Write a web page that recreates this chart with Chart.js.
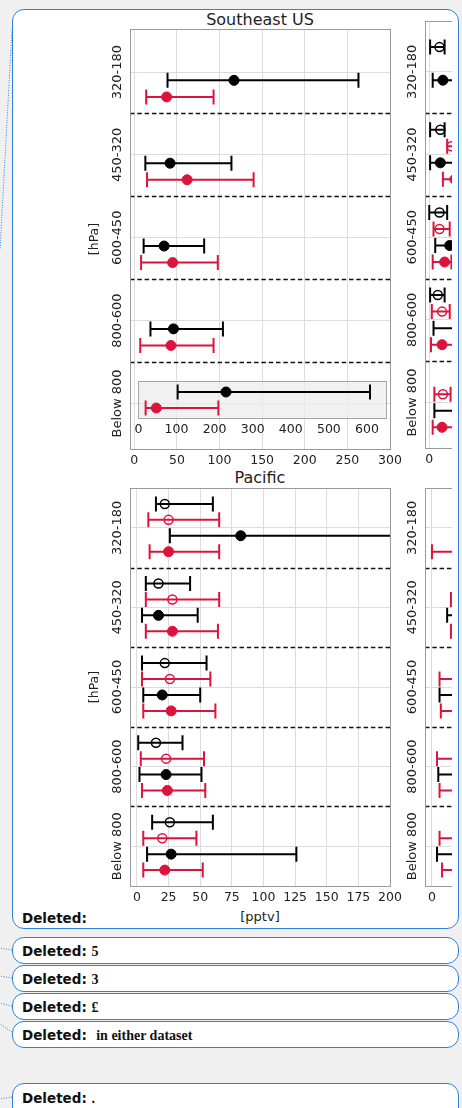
<!DOCTYPE html>
<html>
<head>
<meta charset="utf-8">
<script src="https://cdn.jsdelivr.net/npm/chart.js@4/dist/chart.umd.min.js"></script>
<style>
  body { margin: 0; width: 462px; height: 1108px; background: #f0f0f0; position: relative; overflow: hidden; font-family: "DejaVu Sans", sans-serif; }
  .balloon { position: absolute; box-sizing: border-box; left: 12px; width: 447px; background: #fff; border: 1.5px solid #2f80d9; border-radius: 12px; }
  .del { position: absolute; left: 9px; font: bold 13.5px "DejaVu Sans", sans-serif; color: #111; white-space: pre; }
  .del b { font: bold 14px "Liberation Serif", serif; }
  .title { position: absolute; left: 130px; width: 260px; text-align: center; font-size: 16px; line-height: 20px; color: #222; }
  canvas { position: absolute; }
  .clip { position: absolute; overflow: hidden; }
</style>
</head>
<body>
<svg width="462" height="1108" style="position:absolute;left:0;top:0">
  <g stroke="#2f80d9" stroke-width="1" stroke-dasharray="1,1.5" fill="none">
    <line x1="12" y1="30" x2="0" y2="250"/>
    <line x1="12" y1="950" x2="0" y2="948"/>
    <line x1="12" y1="978" x2="0" y2="976"/>
    <line x1="12" y1="1006" x2="0" y2="1003"/>
    <line x1="12" y1="1032" x2="0" y2="1024"/>
    <line x1="12" y1="1097" x2="0" y2="1099"/>
  </g>
</svg>
<div class="balloon" style="top:9px;height:920px"><div class="del" style="top:900px">Deleted:</div></div>
<div class="balloon" style="top:937px;height:27px"><div class="del" style="top:5px">Deleted: <b>5</b></div></div>
<div class="balloon" style="top:965px;height:27px"><div class="del" style="top:5px">Deleted: <b>3</b></div></div>
<div class="balloon" style="top:993px;height:27px"><div class="del" style="top:5px">Deleted: <b>£</b></div></div>
<div class="balloon" style="top:1021px;height:27px"><div class="del" style="top:5px">Deleted:  <b>in either dataset</b></div></div>
<div class="balloon" style="top:1083px;height:40px"><div class="del" style="top:6px">Deleted: <b>.</b></div></div>

<div class="title" style="top:10px">Southeast US</div>
<div class="title" style="top:468px">Pacific</div>
<div class="title" style="top:909px;font-size:13px;line-height:16px">[pptv]</div>

<canvas id="seMain" width="330" height="480" style="left:80px;top:0px"></canvas>
<canvas id="seInset" width="270" height="65" style="left:128px;top:375px"></canvas>
<div class="clip" style="left:395px;top:0px;width:57px;height:480px"><canvas id="seRight" width="320" height="480" style="left:0;top:0"></canvas></div>
<canvas id="pacMain" width="330" height="440" style="left:80px;top:470px"></canvas>
<div class="clip" style="left:395px;top:470px;width:57px;height:440px"><canvas id="pacRight" width="320" height="440" style="left:0;top:0"></canvas></div>

<script>
var rows = ["320-180", "450-320", "600-450", "800-600", "Below 800"];
var seTicks = [0, 50, 100, 150, 200, 250, 300];
var pacTicks = [0, 25, 50, 75, 100, 125, 150, 175, 200];
var insetTicks = [0, 100, 200, 300, 400, 500, 600];

// Southeast US, left column (last row is shown in the inset)
var seBlack = [117, 42, 35, 46, 230];
var seBlackLo = [39, 13, 11, 19, 103];
var seBlackHi = [263, 114, 82, 104, 608];
var seRed = [38, 62, 45, 43, 47];
var seRedLo = [14, 15, 8, 7, 19];
var seRedHi = [93, 140, 98, 93, 210];

// Southeast US, right column (mostly cut off)
var seRHollowBlack = [12, 13, 12, 10, null];
var seRHollowBlackLo = [1, 1, 0, 1, null];
var seRHollowBlackHi = [18, 18, 21, 18, null];
var seRHollowRed = [null, 26, 12, 15, 16];
var seRHollowRedLo = [null, 21, 5, 3, 6];
var seRHollowRedHi = [null, 40, 24, 24, 25];
var seRBlack = [16, 13, 24, 35, 35];
var seRBlackLo = [4, 1, 7, 5, 6];
var seRBlackHi = [45, 35, 45, 60, 60];
var seRRed = [null, 30, 18, 15, 15];
var seRRedLo = [null, 16, 4, 2, 4];
var seRRedHi = [null, 45, 26, 30, 30];

// Pacific, left column
var pacHollowBlack = [22, 17, 22, 15, 26];
var pacHollowBlackLo = [15, 7, 4, 1, 12];
var pacHollowBlackHi = [60, 42, 55, 36, 60];
var pacHollowRed = [25, 28, 26, 23, 20];
var pacHollowRedLo = [9, 7, 4, 3, 5];
var pacHollowRedHi = [65, 65, 58, 53, 47];
var pacBlack = [82, 17, 20, 23, 27];
var pacBlackLo = [26, 4, 5, 2, 8];
var pacBlackHi = [215, 48, 50, 51, 126];
var pacRed = [25, 28, 27, 24, 22];
var pacRedLo = [10, 7, 5, 4, 5];
var pacRedHi = [65, 64, 62, 54, 52];

// Pacific, right column (mostly cut off)
var pacRHollowRed = [null, 30, 25, 25, 25];
var pacRHollowRedLo = [null, 15, 6, 4, 6];
var pacRHollowRedHi = [null, 50, 45, 45, 45];
var pacRBlack = [null, 35, 25, 25, 25];
var pacRBlackLo = [null, 12, 6, 5, 4];
var pacRBlackHi = [null, 55, 45, 45, 45];
var pacRRed = [40, 30, 25, 25, 25];
var pacRRedLo = [0, 15, 7, 6, 8];
var pacRRedHi = [70, 50, 50, 45, 45];

var RED = "#dc143c";
var BLACK = "#000000";

function series(vals, lo, hi, offset, color, hollow) {
  return { vals: vals, lo: lo, hi: hi, offset: offset, color: color, hollow: hollow };
}

function datasets(list, keep) {
  return list.map(function(s) {
    var pts = [];
    s.vals.forEach(function(v, i) {
      if (v !== null && keep(i)) pts.push({ x: v, y: i + s.offset, lo: s.lo[i], hi: s.hi[i] });
    });
    return {
      data: pts,
      barColor: s.color,
      borderColor: s.color,
      backgroundColor: s.hollow ? "rgba(0,0,0,0)" : s.color,
      pointBackgroundColor: s.hollow ? "rgba(0,0,0,0)" : s.color,
      pointBorderColor: s.color,
      pointBorderWidth: s.hollow ? 1.5 : 1,
      pointRadius: s.hollow ? 4.5 : 5,
      showLine: false
    };
  });
}

var errorBars = {
  id: "errorBars",
  beforeDatasetsDraw: function(chart, args, opts) {
    var ctx = chart.ctx, a = chart.chartArea, x = chart.scales.x, y = chart.scales.y;
    ctx.save();
    ctx.beginPath();
    ctx.rect(a.left, a.top, a.right - a.left, a.bottom - a.top);
    ctx.clip();
    if (opts.fill) {
      ctx.fillStyle = opts.fill;
      ctx.fillRect(a.left, a.top, a.right - a.left, a.bottom - a.top);
    }
    if (opts.separators) {
      ctx.strokeStyle = "#111";
      ctx.lineWidth = 1.4;
      ctx.setLineDash([4.5, 2.8]);
      for (var k = 0; k < rows.length - 1; k++) {
        var py = Math.round(y.getPixelForValue(k + 0.5)) + 0.5;
        ctx.beginPath();
        ctx.moveTo(a.left, py);
        ctx.lineTo(a.right, py);
        ctx.stroke();
      }
      ctx.setLineDash([]);
    }
    chart.data.datasets.forEach(function(ds) {
      ctx.strokeStyle = ds.barColor;
      ctx.lineWidth = 2;
      ds.data.forEach(function(p) {
        var py = y.getPixelForValue(p.y);
        var x0 = x.getPixelForValue(p.lo), x1 = x.getPixelForValue(p.hi);
        ctx.beginPath();
        ctx.moveTo(x0, py); ctx.lineTo(x1, py);
        ctx.moveTo(x0, py - 7.5); ctx.lineTo(x0, py + 7.5);
        ctx.moveTo(x1, py - 7.5); ctx.lineTo(x1, py + 7.5);
        ctx.stroke();
      });
    });
    ctx.restore();
  },
  afterDraw: function(chart, args, opts) {
    var ctx = chart.ctx, a = chart.chartArea, y = chart.scales.y;
    ctx.save();
    ctx.strokeStyle = opts.frame || "#999";
    ctx.lineWidth = 1;
    ctx.strokeRect(Math.round(a.left) + 0.5, Math.round(a.top) + 0.5, Math.round(a.right - a.left), Math.round(a.bottom - a.top));
    if (opts.labels) {
      ctx.fillStyle = "#222";
      ctx.font = '13px "DejaVu Sans"';
      ctx.textAlign = "center";
      ctx.textBaseline = "middle";
      rows.forEach(function(r, i) {
        ctx.save();
        ctx.translate(a.left - 12, y.getPixelForValue(i));
        ctx.rotate(-Math.PI / 2);
        ctx.fillText(r, 0, 0);
        ctx.restore();
      });
      if (opts.unit) {
        ctx.font = '12.5px "DejaVu Sans"';
        ctx.translate(a.left - 35, (a.top + a.bottom) / 2);
        ctx.rotate(-Math.PI / 2);
        ctx.fillText(opts.unit, 0, 0);
      }
    }
    ctx.restore();
  }
};

function makeChart(id, cfg) {
  return new Chart(document.getElementById(id).getContext("2d"), {
    type: "scatter",
    data: { datasets: datasets(cfg.series, cfg.keep || function() { return true; }) },
    plugins: [errorBars],
    options: {
      responsive: false,
      animation: false,
      devicePixelRatio: 1,
      layout: { padding: cfg.pad },
      plugins: {
        legend: { display: false },
        tooltip: { enabled: false },
        errorBars: { separators: cfg.separators !== false, labels: cfg.labels !== false, unit: cfg.unit, fill: cfg.fill, frame: cfg.frame }
      },
      scales: {
        x: {
          type: "linear",
          min: cfg.xMin,
          max: cfg.xMax,
          afterBuildTicks: function(s) { s.ticks = cfg.xTicks.map(function(v) { return { value: v }; }); },
          afterFit: function(s) { s.height = cfg.xH || 22; },
          grid: { display: cfg.grid !== false, color: "#dcdcdc", lineWidth: 1, drawTicks: false },
          border: { display: false },
          ticks: { padding: 4, autoSkip: false, maxRotation: 0, color: "#222", font: { family: "DejaVu Sans", size: 12.5 } }
        },
        y: {
          type: "linear",
          reverse: true,
          min: cfg.yMin,
          max: cfg.yMax,
          afterBuildTicks: function(s) { s.ticks = rows.map(function(r, i) { return { value: i }; }); },
          afterFit: function(s) { s.width = 0; },
          grid: { display: cfg.grid !== false, color: "#dcdcdc", lineWidth: 1, drawTicks: false },
          border: { display: false },
          ticks: { display: false }
        }
      }
    }
  });
}

window.onload = function() {
  makeChart("seMain", {
    series: [series(seBlack, seBlackLo, seBlackHi, 0.1, BLACK, false),
             series(seRed, seRedLo, seRedHi, 0.3, RED, false)],
    keep: function(i) { return i < 4; },
    pad: { left: 50, right: 20, top: 29, bottom: 9 },
    xMin: -5, xMax: 300, xTicks: seTicks, yMin: -0.52, yMax: 4.55, unit: "[hPa]"
  });

  makeChart("seInset", {
    series: [series(seBlack, seBlackLo, seBlackHi, 0.1, BLACK, false),
             series(seRed, seRedLo, seRedHi, 0.3, RED, false)],
    keep: function(i) { return i === 4; },
    pad: { left: 10, right: 12, top: 6, bottom: 6 }, xH: 16,
    xMin: -1, xMax: 650, xTicks: insetTicks, yMin: 3.9625, yMax: 4.425,
    separators: false, labels: false, grid: false,
    fill: "rgba(236,236,236,0.75)", frame: "#a6a6a6"
  });

  makeChart("seRight", {
    series: [series(seRHollowBlack, seRHollowBlackLo, seRHollowBlackHi, -0.3, BLACK, true),
             series(seRHollowRed, seRHollowRedLo, seRHollowRedHi, -0.1, RED, true),
             series(seRBlack, seRBlackLo, seRBlackHi, 0.1, BLACK, false),
             series(seRRed, seRRedLo, seRRedHi, 0.3, RED, false)],
    pad: { left: 30, right: 30, top: 21, bottom: 10 },
    xMin: -5, xMax: 300, xTicks: seTicks, yMin: -0.616, yMax: 4.55
  });

  makeChart("pacMain", {
    series: [series(pacHollowBlack, pacHollowBlackLo, pacHollowBlackHi, -0.3, BLACK, true),
             series(pacHollowRed, pacHollowRedLo, pacHollowRedHi, -0.1, RED, true),
             series(pacBlack, pacBlackLo, pacBlackHi, 0.1, BLACK, false),
             series(pacRed, pacRedLo, pacRedHi, 0.3, RED, false)],
    pad: { left: 50, right: 20, top: 18, bottom: 2 },
    xMin: -5.5, xMax: 200, xTicks: pacTicks, yMin: -0.5, yMax: 4.5, unit: "[hPa]"
  });

  makeChart("pacRight", {
    series: [series(pacRHollowRed, pacRHollowRedLo, pacRHollowRedHi, -0.1, RED, true),
             series(pacRBlack, pacRBlackLo, pacRBlackHi, 0.1, BLACK, false),
             series(pacRRed, pacRRedLo, pacRRedHi, 0.3, RED, false)],
    pad: { left: 30, right: 30, top: 18, bottom: 2 },
    xMin: -5.5, xMax: 200, xTicks: pacTicks, yMin: -0.5, yMax: 4.5
  });
};
</script>
</body>
</html>
